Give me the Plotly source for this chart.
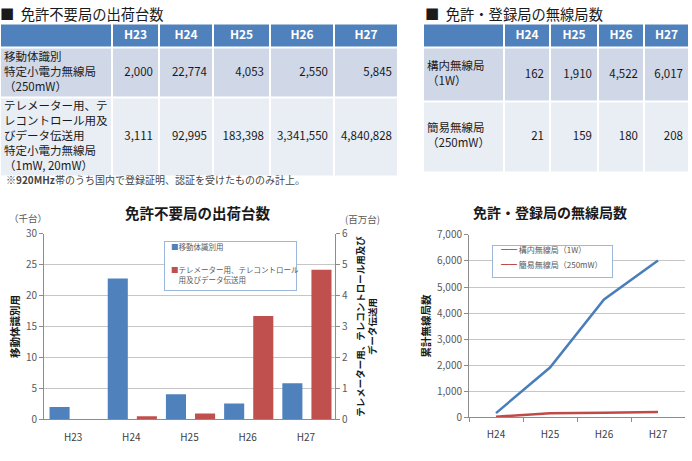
import plotly.graph_objects as go
from itertools import accumulate

# ---------------- data ----------------
years_ship = ["H23", "H24", "H25", "H26", "H27"]
mobile_id_units = [2000, 22774, 4053, 2550, 5845]            # 移動体識別 (台)
telemeter_units = [3111, 92995, 183398, 3341550, 4840828]    # テレメーター用等 (台)
ship_row_labels = [
    "移動体識別<br>特定小電力無線局<br>（250mW）",
    "テレメーター用、テ<br>レコントロール用及<br>びデータ伝送用<br>特定小電力無線局<br>（1mW, 20mW）",
]

years_station = ["H24", "H25", "H26", "H27"]
premises_1w = [162, 1910, 4522, 6017]       # 構内無線局（1W）
simple_250mw = [21, 159, 180, 208]          # 簡易無線局（250mW）
station_row_labels = ["構内無線局<br>（1W）", "簡易無線局<br>（250mW）"]

section_titles = ["■\u00a0\u00a0免許不要局の出荷台数", "■\u00a0\u00a0免許・登録局の無線局数"]

# ---------------- layout helpers ----------------
W, H = 692, 461
FONT = "Noto Sans CJK JP, Noto Sans, sans-serif"
BLUE, RED = "#4F81BD", "#C0504D"
LBLUE, LRED = "#4A7EBB", "#BE4B48"
AXC, GRID, TICKC = "#8C8C8C", "#C6C6C6", "#595959"


def px_x(a, b):
    return [a / W, b / W]


def px_y(top, bottom):
    return [1 - bottom / H, 1 - top / H]


fig = go.Figure()

# ---------------- tables (heatmap cells + text) ----------------
TABLE_COLORS = [[0, "#4F81BD"], [0.5, "#D0D8E8"], [1, "#E9EDF4"]]
TITLE_ROW = 15   # space above each table for its section title


def add_table(xa, ya, left, col_w, row_h, header, labels, rows, title, title_dx):
    xe = [0] + list(accumulate(col_w))
    ye = [TITLE_ROW] + [TITLE_ROW + h for h in accumulate(row_h)]
    ncol = len(col_w)
    z = [[r] * ncol for r in range(len(row_h))]
    fig.add_trace(go.Heatmap(x=xe, y=ye, z=z, colorscale=TABLE_COLORS, zmin=0, zmax=2,
                             showscale=False, xgap=2, ygap=2, hoverinfo="skip",
                             xaxis=xa, yaxis=ya))
    xc = [(xe[i] + xe[i + 1]) / 2 for i in range(ncol)]
    yc = [(ye[i] + ye[i + 1]) / 2 for i in range(len(row_h))]
    # section title above the table
    fig.add_trace(go.Scatter(x=[title_dx], y=[8], text=[title], mode="text",
                             textposition="middle right", cliponaxis=False,
                             textfont=dict(family=FONT, size=14.3, color="#1A1A1A"),
                             hoverinfo="skip", showlegend=False, xaxis=xa, yaxis=ya))
    fig.add_trace(go.Scatter(x=xc[1:], y=[yc[0]] * len(header), text=header, mode="text",
                             textposition="middle center", cliponaxis=False,
                             textfont=dict(family=FONT, size=12, color="white", weight="bold"),
                             hoverinfo="skip", showlegend=False, xaxis=xa, yaxis=ya))
    fig.add_trace(go.Scatter(x=[4] * len(labels), y=yc[1:], text=labels, mode="text",
                             textposition="middle right", cliponaxis=False,
                             textfont=dict(family=FONT, size=11.5, color="#1A1A1A"),
                             hoverinfo="skip", showlegend=False, xaxis=xa, yaxis=ya))
    for r, vals in enumerate(rows):
        fig.add_trace(go.Scatter(x=[xe[i + 2] - 6 for i in range(len(vals))],
                                 y=[yc[r + 1]] * len(vals),
                                 text=[f"{v:,}" for v in vals], mode="text",
                                 textposition="middle left", cliponaxis=False,
                                 textfont=dict(family=FONT, size=11.5, color="#1A1A1A"),
                                 hoverinfo="skip", showlegend=False, xaxis=xa, yaxis=ya))
    tot_w, tot_h = xe[-1], ye[-1]
    ax = dict(visible=False, fixedrange=True)
    fig.layout[xa.replace("x", "xaxis")] = dict(ax, domain=px_x(left, left + tot_w),
                                                 range=[0, tot_w], anchor=ya)
    fig.layout[ya.replace("y", "yaxis")] = dict(ax, domain=px_y(0, tot_h),
                                                 range=[tot_h, 0], anchor=xa)


add_table("x3", "y4", 0, [112, 47, 54, 57, 64, 64], [25, 52, 81],
          years_ship, ship_row_labels, [mobile_id_units, telemeter_units],
          section_titles[0], 0)
add_table("x4", "y5", 423, [81, 46, 48, 46, 45], [25, 56, 73],
          years_station, station_row_labels, [premises_1w, simple_250mw],
          section_titles[1], 2)

# ---------------- bar chart ----------------
fig.add_trace(go.Bar(x=years_ship, y=[v / 1000 for v in mobile_id_units], name="移動体識別用",
                     marker=dict(color=BLUE, line=dict(width=0)), width=0.345, offset=-0.405,
                     xaxis="x", yaxis="y", showlegend=False))
fig.add_trace(go.Bar(x=years_ship, y=[v / 1e6 for v in telemeter_units],
                     name="テレメーター用、テレコントロール用及びデータ伝送用",
                     marker=dict(color=RED, line=dict(width=0)), width=0.345, offset=0.095,
                     xaxis="x", yaxis="y2", showlegend=False))

# ---------------- line chart ----------------
fig.add_trace(go.Scatter(x=years_station, y=premises_1w, mode="lines", name="構内無線局（1W）",
                         line=dict(color=LBLUE, width=2.5), xaxis="x2", yaxis="y3",
                         showlegend=False))
fig.add_trace(go.Scatter(x=years_station, y=simple_250mw, mode="lines", name="簡易無線局（250mW）",
                         line=dict(color=LRED, width=2.5), xaxis="x2", yaxis="y3",
                         showlegend=False))

tickfont = dict(family=FONT, size=10, color=TICKC)
titlefont = dict(family=FONT, size=10.5, color="#1A1A1A", weight="bold")

fig.update_layout(
    width=W, height=H, autosize=False,
    margin=dict(l=0, r=0, t=0, b=0),
    paper_bgcolor="white", plot_bgcolor="white",
    barmode="overlay",
    font=dict(family=FONT),
    xaxis=dict(domain=px_x(44, 335), anchor="y", type="category", range=[-0.5, 4.5],
               showline=True, linecolor=AXC, ticks="", ticklabelstandoff=9,
               tickfont=dict(tickfont, color="#404040"), fixedrange=True),
    yaxis=dict(domain=px_y(233, 425), anchor="x", range=[0, 30], dtick=5, showgrid=True,
               gridcolor=GRID, showline=True, linecolor=AXC, ticks="outside", ticklen=4,
               tickcolor=AXC, tickfont=tickfont, zeroline=False, fixedrange=True,
               title=dict(text="移動体識別用", font=titlefont, standoff=4)),
    yaxis2=dict(overlaying="y", side="right", anchor="x", range=[0, 6], dtick=1, showgrid=False,
                showline=True, linecolor=AXC, ticks="outside", ticklen=4, tickcolor=AXC,
                tickfont=tickfont, zeroline=False, fixedrange=True,
                title=dict(text="テレメーター用、テレコントロール用及び<br>データ伝送用",
                           font=dict(titlefont, size=9.5), standoff=10)),
    xaxis2=dict(domain=px_x(469, 685), anchor="y3", type="category", range=[-0.5, 3.5],
                showline=True, linecolor=AXC, ticks="outside", tickson="boundaries", ticklen=4,
                ticklabelstandoff=8,
                tickcolor=AXC, tickfont=dict(tickfont, color="#404040"), fixedrange=True),
    yaxis3=dict(domain=px_y(234, 423), anchor="x2", range=[0, 7000], dtick=1000, tickformat=",",
                showgrid=True, gridcolor=GRID, showline=True, linecolor=AXC, ticks="outside",
                ticklen=4, tickcolor=AXC, tickfont=tickfont, zeroline=False, fixedrange=True,
                title=dict(text="累計無線局数", font=titlefont, standoff=4)),
)

# ---------------- annotations (titles, units, legends, note) ----------------
ann = []


def text(x, y, s, size, color="#1A1A1A", xanchor="left", bold=False, **kw):
    ann.append(dict(x=x / W, y=1 - y / H, xref="paper", yref="paper", text=s, showarrow=False,
                    xanchor=xanchor, yanchor="middle",
                    font=dict(family=FONT, size=size, color=color,
                              weight="bold" if bold else "normal"), **kw))


text(4, 177, "※<b>920MHz</b>帯のうち国内で登録証明、認証を受けたもののみ計上。", 10, color="#444444")

text(197, 210.5, "免許不要局の出荷台数", 14.5, xanchor="center", bold=True)
text(550, 210.5, "免許・登録局の無線局数", 14, xanchor="center", bold=True)
text(28, 216.5, "（千台）", 9.5, color=TICKC, xanchor="center")
text(362, 217.5, "(百万台)", 9.5, color=TICKC, xanchor="center")

# legend boxes
ann.append(dict(x=164 / W, y=1 - 240 / H, xref="paper", yref="paper", text=" ", showarrow=False,
                xanchor="left", yanchor="top", width=131, height=48, bgcolor="white",
                bordercolor="#9BB7D9", borderwidth=1, borderpad=0))
text(169, 246, f"<span style='color:{BLUE}'>■</span>移動体識別用", 7.5, color=TICKC)
text(169, 275, f"<span style='color:{RED}'>■</span>テレメーター用、テレコントロール<br>　用及びデータ伝送用",
     7.5, color=TICKC, align="left")

ann.append(dict(x=492 / W, y=1 - 244 / H, xref="paper", yref="paper", text=" ", showarrow=False,
                xanchor="left", yanchor="top", width=119, height=31, bgcolor="white",
                bordercolor="#9BB7D9", borderwidth=1, borderpad=0))
text(499, 249, f"<span style='color:{LBLUE}'><b>━━</b></span> 構内無線局（1W）", 8, color=TICKC)
text(499, 265, f"<span style='color:{LRED}'><b>━━</b></span> 簡易無線局（250mW）", 8, color=TICKC)

fig.update_layout(annotations=ann)

fig.write_html("out.html")
